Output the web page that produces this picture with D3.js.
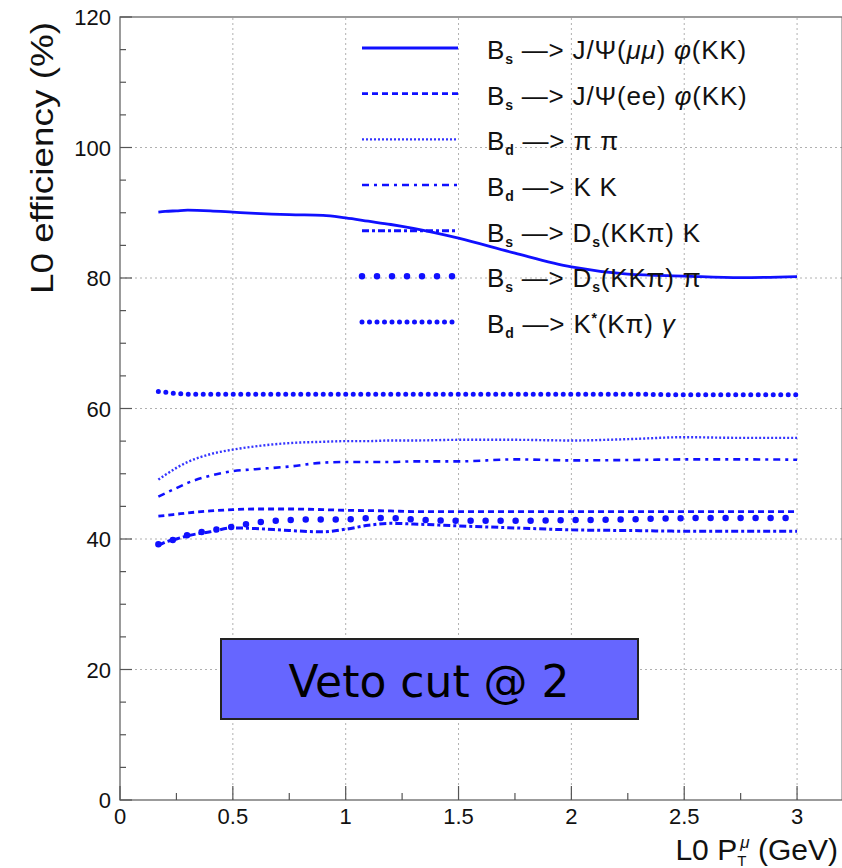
<!DOCTYPE html>
<html>
<head>
<meta charset="utf-8">
<script src="https://cdn.jsdelivr.net/npm/d3@7"></script>
<style>
  body { margin: 0; background: #fff; }
  svg { display: block; font-family: "Liberation Sans", Arial, sans-serif; }
  .grid line { stroke: #b0b0b0; stroke-dasharray: 2,3; }
  .tick-label { font-size: 22px; fill: #111; }
</style>
</head>
<body>
<svg id="chart"></svg>
<script>
// x positions of the samples (GeV)
const ptCut = [0.17, 0.2, 0.25, 0.3, 0.4, 0.5, 0.6, 0.75, 0.9, 1.0, 1.1, 1.2, 1.3, 1.5, 1.75, 2.0, 2.25, 2.5, 2.75, 3.0];

// L0 efficiency (%) per channel
const effJpsiMuMu = [90.1, 90.2, 90.3, 90.4, 90.3, 90.1, 89.9, 89.7, 89.6, 89.2, 88.7, 88.2, 87.6, 86.1, 83.8, 81.7, 80.6, 80.3, 80.05, 80.2];
const effJpsiEE   = [43.5, 43.6, 43.8, 44.0, 44.3, 44.5, 44.6, 44.6, 44.5, 44.4, 44.35, 44.3, 44.2, 44.2, 44.2, 44.2, 44.2, 44.2, 44.2, 44.2];
const effPiPi     = [49.1, 49.8, 50.9, 51.8, 53.0, 53.7, 54.2, 54.7, 54.9, 55.0, 55.0, 55.1, 55.1, 55.2, 55.2, 55.1, 55.3, 55.6, 55.5, 55.5];
const effKK       = [46.5, 47.0, 47.8, 48.6, 49.7, 50.4, 50.7, 51.1, 51.7, 51.8, 51.8, 51.8, 51.9, 51.9, 52.2, 52.05, 52.1, 52.2, 52.2, 52.15];
const effDsK      = [39.0, 39.5, 40.0, 40.5, 41.1, 41.7, 41.6, 41.3, 41.1, 41.5, 42.1, 42.4, 42.3, 42.0, 41.7, 41.4, 41.3, 41.2, 41.2, 41.2];
const effDsPi     = [39.2, 39.5, 40.0, 40.6, 41.3, 41.9, 42.5, 42.9, 43.0, 43.0, 43.2, 43.2, 43.0, 42.8, 42.8, 42.9, 43.0, 43.2, 43.2, 43.2];
const effKstGamma = [62.6, 62.5, 62.3, 62.2, 62.2, 62.2, 62.2, 62.2, 62.2, 62.2, 62.2, 62.2, 62.2, 62.2, 62.2, 62.2, 62.2, 62.1, 62.1, 62.1];

// legend labels ( _x = subscript, ^x = superscript )
const channelLabels = [
  "B_s —> J/Ψ(μμ) φ(KK)",
  "B_s —> J/Ψ(ee) φ(KK)",
  "B_d —> π π",
  "B_d —> K K",
  "B_s —> D_s(KKπ) K",
  "B_s —> D_s(KKπ) π",
  "B_d —> K^*(Kπ) γ"
];
const channelValues = [effJpsiMuMu, effJpsiEE, effPiPi, effKK, effDsK, effDsPi, effKstGamma];

const xTicks = [0, 0.5, 1, 1.5, 2, 2.5, 3];
const yTicks = [0, 20, 40, 60, 80, 100, 120];
const boxText = "Veto cut @ 2";

// one line style per channel, same order as the labels
const lineStyles = [
  {width: 2.8, dash: null, cap: "butt"},
  {width: 2.8, dash: "6,4", cap: "butt"},
  {width: 2.4, dash: "2,2", cap: "butt", opacity: 0.85},
  {width: 2.6, dash: "7,5,3,5", cap: "butt"},
  {width: 3, dash: "7,3,3,3", cap: "butt"},
  {width: 6.5, dash: "0,15", cap: "round"},
  {width: 5, dash: "0,7.5", cap: "round"}
];

const width = 842, height = 868;
const svg = d3.select("#chart").attr("width", width).attr("height", height);

const x = d3.scaleLinear().domain([0, 3.2]).range([120, 842.2]);
const y = d3.scaleLinear().domain([0, 120]).range([800, 17]);

// grid
const grid = svg.append("g").attr("class", "grid");
grid.selectAll(".gx").data(xTicks.filter(d => d > 0)).enter().append("line")
    .attr("x1", d => x(d)).attr("x2", d => x(d))
    .attr("y1", y(0)).attr("y2", y(120));
grid.selectAll(".gy").data(yTicks.filter(d => d > 0 && d < 120)).enter().append("line")
    .attr("x1", x(0)).attr("x2", x(3.2))
    .attr("y1", d => y(d)).attr("y2", d => y(d));

// frame
svg.append("rect")
    .attr("x", x(0)).attr("y", y(120))
    .attr("width", x(3.2) - x(0)).attr("height", y(0) - y(120))
    .attr("fill", "none").attr("stroke", "#666").attr("stroke-width", 1.3);

// axes: ticks drawn inside the frame
const axX = svg.append("g").attr("transform", `translate(0,${y(0)})`);
axX.selectAll("line").data(d3.range(0, 13).map(i => i * 0.25)).enter().append("line")
    .attr("x1", d => x(d)).attr("x2", d => x(d))
    .attr("y1", 0).attr("y2", (d, i) => i % 2 ? -7 : -14)
    .attr("stroke", "#555").attr("stroke-width", 1.2);
axX.selectAll("text").data(xTicks).enter().append("text")
    .attr("class", "tick-label")
    .attr("x", d => x(d)).attr("y", 24)
    .attr("text-anchor", "middle")
    .text(d => d);

const axY = svg.append("g").attr("transform", `translate(${x(0)},0)`);
axY.selectAll("line").data(d3.range(0, 25).map(i => i * 5)).enter().append("line")
    .attr("y1", d => y(d)).attr("y2", d => y(d))
    .attr("x1", 0).attr("x2", (d, i) => i % 4 ? 6 : 12)
    .attr("stroke", "#555").attr("stroke-width", 1.2);
axY.selectAll("text").data(yTicks).enter().append("text")
    .attr("class", "tick-label")
    .attr("x", -9).attr("y", d => y(d) + 8)
    .attr("text-anchor", "end")
    .text(d => d);

// axis titles
svg.append("text")
    .attr("transform", "translate(53,22) rotate(-90)")
    .attr("text-anchor", "end")
    .attr("font-size", 32).attr("fill", "#111")
    .attr("textLength", 272).attr("lengthAdjust", "spacingAndGlyphs")
    .text("L0 efficiency (%)");

const xt = svg.append("text")
    .attr("x", 838).attr("y", 860)
    .attr("text-anchor", "end")
    .attr("font-size", 30).attr("fill", "#111");
xt.append("tspan").text("L0 P");
xt.append("tspan").attr("font-size", 15).attr("dy", 6).text("T");
xt.append("tspan").attr("font-size", 17).attr("font-style", "italic").attr("dx", -6).attr("dy", -18).text("μ");
xt.append("tspan").attr("dy", 12).text(" (GeV)");

// curves
const line = d3.line()
    .x((d, i) => x(ptCut[i]))
    .y(d => y(d))
    .curve(d3.curveMonotoneX);

function styleLine(sel, s) {
  sel.attr("fill", "none")
     .attr("stroke", "#1010ff")
     .attr("stroke-width", s.width)
     .attr("stroke-linecap", s.cap)
     .attr("stroke-dasharray", s.dash)
     .attr("opacity", s.opacity || 1);
}

channelValues.forEach((vals, k) => {
  svg.append("path").datum(vals).attr("d", line).call(styleLine, lineStyles[k]);
});

// legend
const legend = svg.append("g");
const rowY = d3.scaleLinear().domain([0, 6]).range([48, 322]);
const greekItalic = new Set(["μ", "φ", "γ"]);

channelLabels.forEach((label, k) => {
  const yy = rowY(k);
  legend.append("line")
      .attr("x1", 362).attr("x2", 458).attr("y1", yy).attr("y2", yy)
      .call(styleLine, lineStyles[k]);

  const t = legend.append("text")
      .attr("x", 487).attr("y", yy + 11)
      .attr("font-size", 26).attr("fill", "#111")
      .attr("letter-spacing", 0.8);
  let shift = 0;
  for (let i = 0; i < label.length; i++) {
    const c = label[i];
    if ((c === "_" || c === "^") && i + 1 < label.length) {
      const sub = c === "_";
      const dy = sub ? 5 : -10;
      t.append("tspan").attr("dy", dy - shift)
          .attr("font-size", 14).attr("font-weight", "bold")
          .text(label[i + 1]);
      shift = dy;
      i++;
      continue;
    }
    const sp = t.append("tspan").attr("dy", -shift).text(c);
    if (greekItalic.has(c)) sp.attr("font-style", "italic");
    shift = 0;
  }
});

// annotation box
svg.append("rect")
    .attr("x", 221).attr("y", 639).attr("width", 417).attr("height", 80)
    .attr("fill", "#6666ff").attr("stroke", "#222").attr("stroke-width", 2);
svg.append("text")
    .attr("x", 429).attr("y", 697)
    .attr("text-anchor", "middle")
    .attr("font-family", "DejaVu Sans, Verdana, sans-serif")
    .attr("font-size", 44).attr("fill", "#000")
    .text(boxText);
</script>
</body>
</html>
